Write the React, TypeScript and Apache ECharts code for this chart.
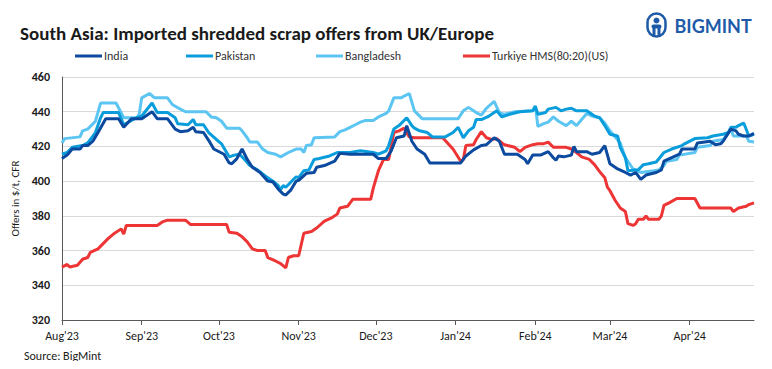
import React, { useEffect, useRef } from "react";
import * as echarts from "echarts";

const monthTicks = ["2023-08-01", "2023-09-01", "2023-10-01", "2023-11-01", "2023-12-01", "2024-01-01", "2024-02-01", "2024-03-01", "2024-04-01"];
const monthLabels = ["Aug'23", "Sep'23", "Oct'23", "Nov'23", "Dec'23", "Jan'24", "Feb'24", "Mar'24", "Apr'24"];
const firstDay = "2023-08-01";
const lastDay = "2024-04-26";
const yTicks = [320, 340, 360, 380, 400, 420, 440, 460];

const india: [string, number][] = [
  ["2023-08-01", 413], ["2023-08-03", 415], ["2023-08-05", 418.5], ["2023-08-08", 418.5], ["2023-08-09", 420.5],
  ["2023-08-11", 420.5], ["2023-08-13", 423], ["2023-08-15", 428], ["2023-08-18", 436], ["2023-08-23", 436],
  ["2023-08-25", 431], ["2023-08-28", 436], ["2023-09-01", 436], ["2023-09-05", 440], ["2023-09-07", 436],
  ["2023-09-11", 436], ["2023-09-14", 430], ["2023-09-16", 428.5], ["2023-09-19", 429], ["2023-09-21", 431],
  ["2023-09-22", 428.5], ["2023-09-25", 428], ["2023-09-27", 423.5], ["2023-09-29", 418.5], ["2023-10-03", 415.5],
  ["2023-10-05", 410.5], ["2023-10-06", 410], ["2023-10-08", 413], ["2023-10-10", 418.5], ["2023-10-12", 412.5],
  ["2023-10-14", 408], ["2023-10-17", 405], ["2023-10-20", 400], ["2023-10-22", 399.5], ["2023-10-24", 395.5],
  ["2023-10-26", 392.5], ["2023-10-27", 392], ["2023-10-29", 395], ["2023-10-31", 400], ["2023-11-01", 400.5],
  ["2023-11-04", 404.5], ["2023-11-07", 405], ["2023-11-08", 408], ["2023-11-11", 409], ["2023-11-15", 411.5],
  ["2023-11-17", 416], ["2023-11-21", 415.5], ["2023-11-30", 415.5], ["2023-12-02", 413], ["2023-12-05", 413],
  ["2023-12-07", 417.5], ["2023-12-09", 425], ["2023-12-12", 426], ["2023-12-13", 432], ["2023-12-15", 423],
  ["2023-12-17", 418.5], ["2023-12-20", 415.5], ["2023-12-22", 410.5], ["2024-01-03", 410.5], ["2024-01-05", 414.5],
  ["2024-01-08", 418], ["2024-01-11", 420.5], ["2024-01-13", 421], ["2024-01-16", 425], ["2024-01-18", 423],
  ["2024-01-20", 415.5], ["2024-01-25", 415.5], ["2024-01-28", 412.5], ["2024-01-29", 410], ["2024-01-31", 415],
  ["2024-02-03", 415], ["2024-02-06", 417], ["2024-02-08", 413.5], ["2024-02-09", 412], ["2024-02-10", 414.5],
  ["2024-02-12", 414], ["2024-02-15", 415], ["2024-02-16", 420], ["2024-02-17", 417], ["2024-02-21", 417],
  ["2024-02-23", 415.5], ["2024-02-26", 416.5], ["2024-02-28", 420.5], ["2024-03-01", 410], ["2024-03-04", 407],
  ["2024-03-07", 405], ["2024-03-09", 403.5], ["2024-03-11", 405], ["2024-03-13", 401], ["2024-03-15", 403.5],
  ["2024-03-19", 405], ["2024-03-21", 406.5], ["2024-03-22", 411.5], ["2024-03-25", 413.5], ["2024-03-28", 415.5],
  ["2024-03-29", 418.5], ["2024-04-03", 418.5], ["2024-04-04", 422], ["2024-04-09", 423], ["2024-04-11", 421],
  ["2024-04-13", 421.5], ["2024-04-14", 423], ["2024-04-17", 430], ["2024-04-19", 429], ["2024-04-20", 427],
  ["2024-04-22", 426], ["2024-04-24", 426], ["2024-04-26", 427.5],
];

const pakistan: [string, number][] = [
  ["2023-08-01", 415.5], ["2023-08-03", 416.5], ["2023-08-05", 419.5], ["2023-08-09", 420.5], ["2023-08-11", 422],
  ["2023-08-14", 428], ["2023-08-16", 436.5], ["2023-08-17", 439.5], ["2023-08-23", 439.5], ["2023-08-25", 432.5],
  ["2023-08-30", 436.5], ["2023-09-01", 437.5], ["2023-09-05", 445], ["2023-09-07", 439.5], ["2023-09-11", 439.5],
  ["2023-09-14", 436.5], ["2023-09-15", 433], ["2023-09-19", 432.5], ["2023-09-21", 435.5], ["2023-09-22", 432.5],
  ["2023-09-25", 432.5], ["2023-09-27", 428], ["2023-09-30", 424], ["2023-10-02", 421.5], ["2023-10-04", 416.5],
  ["2023-10-05", 414], ["2023-10-07", 415], ["2023-10-09", 415.5], ["2023-10-11", 412.5], ["2023-10-13", 409],
  ["2023-10-16", 406.5], ["2023-10-19", 403], ["2023-10-22", 400], ["2023-10-24", 397.5], ["2023-10-25", 395],
  ["2023-10-26", 397.5], ["2023-10-27", 396.5], ["2023-10-31", 402.5], ["2023-11-01", 402], ["2023-11-03", 406],
  ["2023-11-05", 406.5], ["2023-11-07", 412.5], ["2023-11-09", 413], ["2023-11-13", 414.5], ["2023-11-16", 416.5],
  ["2023-11-21", 416.5], ["2023-11-25", 417.5], ["2023-11-30", 416.5], ["2023-12-02", 415.5], ["2023-12-05", 417.5],
  ["2023-12-06", 420.5], ["2023-12-08", 430], ["2023-12-10", 432], ["2023-12-13", 436.5], ["2023-12-15", 432],
  ["2023-12-16", 430.5], ["2023-12-18", 429], ["2023-12-21", 428], ["2023-12-23", 425.5], ["2023-12-28", 425.5],
  ["2023-12-31", 428], ["2024-01-02", 431], ["2024-01-04", 425], ["2024-01-06", 429], ["2024-01-08", 431],
  ["2024-01-09", 435.5], ["2024-01-11", 435.5], ["2024-01-14", 437.5], ["2024-01-17", 440.5], ["2024-01-19", 437],
  ["2024-01-22", 438.5], ["2024-01-26", 440], ["2024-01-31", 440.5], ["2024-02-01", 443], ["2024-02-02", 438.5],
  ["2024-02-05", 439.5], ["2024-02-06", 441.5], ["2024-02-09", 442.5], ["2024-02-11", 440.5], ["2024-02-13", 441.5],
  ["2024-02-15", 442], ["2024-02-17", 440.5], ["2024-02-21", 440.5], ["2024-02-24", 437.5], ["2024-02-26", 436.5],
  ["2024-02-28", 432], ["2024-03-01", 427], ["2024-03-04", 426], ["2024-03-05", 419.5], ["2024-03-07", 413.5],
  ["2024-03-08", 406], ["2024-03-12", 406.5], ["2024-03-14", 409.5], ["2024-03-16", 410], ["2024-03-19", 411],
  ["2024-03-22", 416.5], ["2024-03-25", 418.5], ["2024-03-29", 420.5], ["2024-03-30", 421.5], ["2024-04-03", 424.5],
  ["2024-04-08", 425], ["2024-04-10", 426], ["2024-04-14", 427], ["2024-04-16", 428], ["2024-04-17", 431],
  ["2024-04-19", 431], ["2024-04-20", 432], ["2024-04-22", 433.5], ["2024-04-24", 426], ["2024-04-26", 427],
];

const bangladesh: [string, number][] = [
  ["2023-08-01", 422], ["2023-08-02", 424.5], ["2023-08-08", 425.5], ["2023-08-09", 429], ["2023-08-11", 430],
  ["2023-08-14", 434.5], ["2023-08-16", 445], ["2023-08-22", 445], ["2023-08-25", 436.5], ["2023-08-30", 436.5],
  ["2023-08-31", 438.5], ["2023-09-01", 448], ["2023-09-04", 450.5], ["2023-09-06", 448], ["2023-09-11", 448],
  ["2023-09-13", 444], ["2023-09-16", 441.5], ["2023-09-18", 440], ["2023-09-26", 440], ["2023-09-28", 437],
  ["2023-09-30", 436.5], ["2023-10-02", 434.5], ["2023-10-04", 430.5], ["2023-10-09", 430.5], ["2023-10-10", 429],
  ["2023-10-12", 425], ["2023-10-13", 422.5], ["2023-10-16", 422.5], ["2023-10-18", 418.5], ["2023-10-20", 416.5],
  ["2023-10-23", 415.5], ["2023-10-25", 414], ["2023-10-28", 416.5], ["2023-10-31", 418.5], ["2023-11-02", 418.5],
  ["2023-11-03", 416.5], ["2023-11-04", 420.5], ["2023-11-06", 421], ["2023-11-07", 425], ["2023-11-15", 425.5],
  ["2023-11-17", 428.5], ["2023-11-19", 429.5], ["2023-11-21", 431], ["2023-11-23", 432.5], ["2023-11-25", 434],
  ["2023-11-27", 435], ["2023-11-30", 435], ["2023-12-02", 437], ["2023-12-05", 439], ["2023-12-06", 440.5],
  ["2023-12-08", 448], ["2023-12-11", 448], ["2023-12-12", 449], ["2023-12-14", 450.5], ["2023-12-16", 440.5],
  ["2023-12-19", 436], ["2024-01-02", 436], ["2024-01-04", 440.5], ["2024-01-06", 442.5], ["2024-01-09", 439.5],
  ["2024-01-11", 438], ["2024-01-13", 442], ["2024-01-16", 446], ["2024-01-18", 439.5], ["2024-01-20", 438.5],
  ["2024-01-24", 440], ["2024-01-31", 440.5], ["2024-02-01", 443.5], ["2024-02-02", 431.5], ["2024-02-04", 433],
  ["2024-02-06", 434], ["2024-02-08", 437], ["2024-02-10", 434.5], ["2024-02-13", 432], ["2024-02-15", 434.5],
  ["2024-02-17", 432], ["2024-02-19", 435.5], ["2024-02-21", 439], ["2024-02-23", 437.5], ["2024-02-26", 436.5],
  ["2024-02-28", 433.5], ["2024-03-01", 429], ["2024-03-03", 425.5], ["2024-03-05", 422], ["2024-03-07", 413.5],
  ["2024-03-10", 407], ["2024-03-13", 405], ["2024-03-18", 406], ["2024-03-20", 406.5], ["2024-03-22", 409],
  ["2024-03-23", 411.5], ["2024-03-27", 412.5], ["2024-03-28", 415], ["2024-04-03", 416.5], ["2024-04-04", 419.5],
  ["2024-04-09", 420.5], ["2024-04-10", 423], ["2024-04-14", 424], ["2024-04-17", 430], ["2024-04-18", 426],
  ["2024-04-23", 426], ["2024-04-24", 423], ["2024-04-26", 422.5],
];

const turkiye: [string, number][] = [
  ["2023-08-01", 350.5], ["2023-08-03", 352], ["2023-08-04", 350.5], ["2023-08-07", 351.5], ["2023-08-09", 355],
  ["2023-08-11", 356], ["2023-08-12", 359], ["2023-08-15", 361], ["2023-08-17", 364], ["2023-08-19", 367],
  ["2023-08-21", 369.5], ["2023-08-24", 372.5], ["2023-08-25", 369.5], ["2023-08-26", 374.5], ["2023-09-07", 374.5],
  ["2023-09-09", 376.5], ["2023-09-11", 377.5], ["2023-09-18", 377.5], ["2023-09-20", 375], ["2023-10-04", 375],
  ["2023-10-05", 370.5], ["2023-10-08", 370], ["2023-10-10", 368], ["2023-10-12", 365], ["2023-10-14", 361],
  ["2023-10-16", 360], ["2023-10-19", 360], ["2023-10-20", 356], ["2023-10-23", 354], ["2023-10-25", 352.5],
  ["2023-10-27", 350], ["2023-10-28", 356], ["2023-10-30", 357], ["2023-11-01", 357], ["2023-11-03", 370],
  ["2023-11-06", 371], ["2023-11-08", 373], ["2023-11-11", 377], ["2023-11-14", 379], ["2023-11-16", 381],
  ["2023-11-17", 384.5], ["2023-11-20", 385.5], ["2023-11-22", 389.5], ["2023-11-29", 389.5], ["2023-11-30", 396],
  ["2023-12-02", 406], ["2023-12-04", 412.5], ["2023-12-06", 412.5], ["2023-12-08", 428], ["2023-12-10", 429],
  ["2023-12-12", 430.5], ["2023-12-14", 425.5], ["2023-12-16", 425], ["2023-12-27", 425], ["2023-12-31", 418.5],
  ["2024-01-03", 411.5], ["2024-01-04", 412.5], ["2024-01-05", 420.5], ["2024-01-08", 421], ["2024-01-09", 424],
  ["2024-01-11", 428.5], ["2024-01-13", 425], ["2024-01-15", 424], ["2024-01-17", 424.5], ["2024-01-19", 422],
  ["2024-01-20", 421], ["2024-01-24", 419.5], ["2024-01-26", 417], ["2024-01-28", 419.5], ["2024-01-31", 421],
  ["2024-02-02", 421.5], ["2024-02-04", 421.5], ["2024-02-06", 422.5], ["2024-02-08", 419.5], ["2024-02-13", 419.5],
  ["2024-02-15", 418.5], ["2024-02-17", 416.5], ["2024-02-19", 414], ["2024-02-22", 412.5], ["2024-02-24", 409.5],
  ["2024-02-26", 405.5], ["2024-02-28", 402], ["2024-02-29", 396.5], ["2024-03-01", 394.5], ["2024-03-03", 389],
  ["2024-03-05", 384.5], ["2024-03-07", 382.5], ["2024-03-08", 375.5], ["2024-03-10", 374.5], ["2024-03-11", 375.5],
  ["2024-03-12", 378], ["2024-03-14", 378], ["2024-03-15", 380], ["2024-03-16", 378], ["2024-03-20", 378],
  ["2024-03-21", 380], ["2024-03-22", 386], ["2024-03-24", 387.5], ["2024-03-27", 390], ["2024-04-03", 390],
  ["2024-04-05", 384.5], ["2024-04-17", 384.5], ["2024-04-18", 382.5], ["2024-04-20", 384.5], ["2024-04-23", 385.5],
  ["2024-04-24", 386.5], ["2024-04-26", 387.5],
];

const seriesNames = ["India", "Pakistan", "Bangladesh", "Turkiye HMS(80:20)(US)"];
const seriesColors = ["#0b4a9e", "#0a9ddb", "#5cc5f2", "#ee3535"];
const legendLefts = [70, 181, 311, 458];

const FONT = "Carlito, Calibri, Lato, sans-serif";

function buildDays(): string[] {
  const out: string[] = [];
  const [y0, m0, d0] = firstDay.split("-").map(Number);
  const [y1, m1, d1] = lastDay.split("-").map(Number);
  let t = Date.UTC(y0, m0 - 1, d0);
  const end = Date.UTC(y1, m1 - 1, d1);
  while (t <= end) {
    out.push(new Date(t).toISOString().slice(0, 10));
    t += 86400000;
  }
  return out;
}

export default function App() {
  const ref = useRef<HTMLDivElement>(null);
  useEffect(() => {
    if (!ref.current) return;
    const chart = echarts.init(ref.current, undefined, { renderer: "svg" });
    const days = buildDays();
    const idx: Record<string, number> = {};
    days.forEach((d, i) => (idx[d] = i));
    const toData = (arr: [string, number][]) => arr.map(([d, v]) => [idx[d], v]);
    const tickSet = new Set(monthTicks);
    const labelOf: Record<string, string> = {};
    monthTicks.forEach((d, i) => (labelOf[d] = monthLabels[i]));
    const all = [india, pakistan, bangladesh, turkiye];

    chart.setOption({
      animation: false,
      backgroundColor: "#ffffff",
      textStyle: { fontFamily: FONT },
      title: {
        text: "South Asia: Imported shredded scrap offers from UK/Europe",
        left: 15,
        top: 19,
        textStyle: { fontFamily: FONT, fontSize: 19, fontWeight: "bold", color: "#1a1a1a" },
      },
      legend: seriesNames.map((n, i) => ({
        left: legendLefts[i],
        top: 45,
        icon: "rect",
        itemWidth: 27,
        itemHeight: 3,
        textStyle: { fontFamily: FONT, fontSize: 12, color: "#333333", padding: [0, 0, 0, -3] },
        data: [n],
      })),
      grid: { left: 62, right: 18, top: 77, bottom: 49, containLabel: false },
      xAxis: {
        type: "category",
        data: days,
        boundaryGap: false,
        axisLine: { show: true, lineStyle: { color: "#595959", width: 1 } },
        axisTick: {
          show: true,
          length: 5,
          interval: (_i: number, v: string) => tickSet.has(v),
          lineStyle: { color: "#595959" },
        },
        axisLabel: {
          interval: (_i: number, v: string) => tickSet.has(v),
          formatter: (v: string) => labelOf[v] || "",
          hideOverlap: false,
          fontFamily: FONT,
          fontSize: 12,
          color: "#1a1a1a",
          margin: 10,
        },
        splitLine: { show: false },
      },
      yAxis: {
        type: "value",
        min: yTicks[0],
        max: yTicks[yTicks.length - 1],
        interval: 20,
        name: "Offers in $/t, CFR",
        nameLocation: "middle",
        nameGap: 40,
        nameTextStyle: { fontFamily: FONT, fontSize: 11, color: "#1a1a1a" },
        axisLine: { show: true, lineStyle: { color: "#595959", width: 1 } },
        axisTick: { show: false },
        axisLabel: { fontFamily: FONT, fontSize: 12, fontWeight: "bold", color: "#1a1a1a", margin: 12 },
        splitLine: { show: true, lineStyle: { color: "#d9d9d9", width: 1 } },
      },
      series: all.map((arr, i) => ({
        name: seriesNames[i],
        type: "line",
        data: toData(arr),
        showSymbol: false,
        symbol: "none",
        lineStyle: { width: 3, color: seriesColors[i] },
        itemStyle: { color: seriesColors[i] },
        z: i === 3 ? 1 : 4 - i,
      })),
      graphic: [
        {
          type: "text",
          left: 24,
          top: 350,
          style: { text: "Source: BigMint", fontFamily: FONT, fontSize: 12, fill: "#1a1a1a" },
        },
        {
          type: "group",
          left: 645,
          top: 11,
          children: [
            { type: "rect", shape: { x: 0, y: 0, width: 18, height: 23, r: 9 }, style: { fill: "none", stroke: "#1d5aa8", lineWidth: 2.5 } },
            { type: "circle", shape: { cx: 9, cy: 7, r: 3 }, style: { fill: "#1d5aa8" } },
            { type: "rect", shape: { x: 4, y: 11, width: 10, height: 4, r: 2 }, style: { fill: "#1d5aa8" } },
            { type: "rect", shape: { x: 5, y: 14, width: 3, height: 8, r: 1 }, style: { fill: "#1d5aa8" } },
            { type: "rect", shape: { x: 10, y: 14, width: 3, height: 8, r: 1 }, style: { fill: "#1d5aa8" } },
            {
              type: "text",
              x: 27,
              y: 3,
              style: { text: "BIGMINT", fontFamily: "Lato, 'Open Sans', sans-serif", fontSize: 18, fontWeight: "bold", fill: "#1d5aa8" },
            },
          ],
        },
      ],
    });
    return () => chart.dispose();
  }, []);
  return <div ref={ref} style={{ width: 772, height: 369, margin: -8 }} />;
}
